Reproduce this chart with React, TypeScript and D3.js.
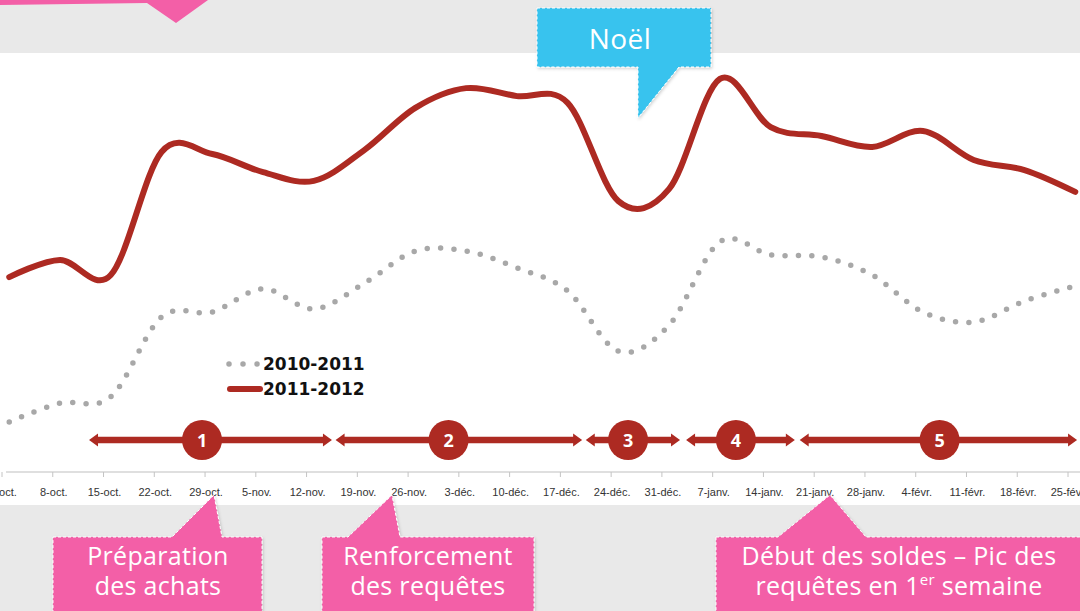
import { useRef, useEffect } from "react";
import * as d3 from "d3";

// weekly points (Sundays)
const weeks = [
  "2011-10-02", "2011-10-09", "2011-10-16", "2011-10-23", "2011-10-30",
  "2011-11-06", "2011-11-13", "2011-11-20", "2011-11-27",
  "2011-12-04", "2011-12-11", "2011-12-18", "2011-12-25",
  "2012-01-01", "2012-01-08", "2012-01-15", "2012-01-22", "2012-01-29",
  "2012-02-05", "2012-02-12", "2012-02-19", "2012-02-26",
];
const season1112 = [
  46.4, 50.5, 46.9, 76.2, 75.7, 71.4, 69.3, 76.7, 86.7, 91.4, 89.5,
  87.9, 64.5, 67.4, 93.6, 82.1, 80.0, 77.4, 81.2, 74.3, 71.9, 66.7,
];
const season1011 = [
  11.9, 16.4, 17.9, 36.9, 38.1, 43.6, 38.8, 45.0, 52.6, 52.6, 48.6,
  43.1, 28.8, 35.0, 54.8, 51.7, 51.2, 46.9, 38.1, 35.7, 40.7, 44.3,
];

const tickDates = [
  "2011-10-01", "2011-10-08", "2011-10-15", "2011-10-22", "2011-10-29",
  "2011-11-05", "2011-11-12", "2011-11-19", "2011-11-26",
  "2011-12-03", "2011-12-10", "2011-12-17", "2011-12-24", "2011-12-31",
  "2012-01-07", "2012-01-14", "2012-01-21", "2012-01-28",
  "2012-02-04", "2012-02-11", "2012-02-18", "2012-02-25",
];
const tickLabels = [
  "1-oct.", "8-oct.", "15-oct.", "22-oct.", "29-oct.", "5-nov.", "12-nov.",
  "19-nov.", "26-nov.", "3-déc.", "10-déc.", "17-déc.", "24-déc.", "31-déc.",
  "7-janv.", "14-janv.", "21-janv.", "28-janv.", "4-févr.", "11-févr.",
  "18-févr.", "25-févr.",
];

// phases 1..5 (double arrows under the curves)
const phaseLabels = ["1", "2", "3", "4", "5"];
const phaseStart = [
  "2011-10-13T00:00:00Z", "2011-11-16T00:00:00Z", "2011-12-20T12:00:00Z",
  "2012-01-03T08:00:00Z", "2012-01-19T00:00:00Z",
];
const phaseEnd = [
  "2011-11-15T12:00:00Z", "2011-12-20T00:00:00Z", "2012-01-02T12:00:00Z",
  "2012-01-18T08:00:00Z", "2012-02-26T06:00:00Z",
];
const phaseMid = [
  "2011-10-28T14:00:00Z", "2011-12-01T14:00:00Z", "2011-12-26T08:00:00Z",
  "2012-01-10T05:00:00Z", "2012-02-07T07:00:00Z",
];

const seriesNames = ["2010-2011", "2011-2012"];

const RED = "#ad2a22";
const GREY = "#a8a8a8";
const PINK = "#f35fa7";
const CYAN = "#37c3ee";
const BG = "#e9e9e9";

const App = () => {
  const svgRef = useRef(null);

  useEffect(() => {
    document.body.style.margin = "0";
    const svg = d3.select(svgRef.current);
    svg.selectAll("*").remove();

    const width = 1080;
    const height = 611;
    svg.attr("width", width).attr("height", height);

    const defs = svg.append("defs");
    const shadow = defs.append("filter").attr("id", "shadow").attr("x", "-10%").attr("y", "-10%").attr("width", "120%").attr("height", "130%");
    shadow.append("feDropShadow").attr("dx", 1).attr("dy", 1.5).attr("stdDeviation", 1.5).attr("flood-color", "#000").attr("flood-opacity", 0.18);

    // backgrounds
    svg.append("rect").attr("width", width).attr("height", height).attr("fill", BG);
    svg.append("rect").attr("x", 0).attr("y", 53).attr("width", width).attr("height", 452).attr("fill", "#fff");

    const x = d3
      .scaleUtc()
      .domain([d3.isoParse("2011-10-01"), d3.isoParse("2012-02-25")])
      .range([2, 1068]);
    const y = d3.scaleLinear().domain([0, 100]).range([472, 52]);

    const axisY = 472;

    // x axis
    svg.append("line").attr("x1", 6).attr("x2", width).attr("y1", axisY).attr("y2", axisY).attr("stroke", "#d4d4d4").attr("stroke-width", 1.3);
    const ticks = svg.append("g");
    tickDates.forEach((d, i) => {
      const tx = x(d3.isoParse(d));
      ticks.append("line").attr("x1", tx).attr("x2", tx).attr("y1", axisY).attr("y2", axisY + 5).attr("stroke", "#c4c4c4").attr("stroke-width", 1);
      ticks
        .append("text")
        .attr("x", tx + 1)
        .attr("y", axisY + 24)
        .attr("text-anchor", "middle")
        .style("font-family", "'Liberation Sans', Arial, sans-serif")
        .style("font-size", "11px")
        .style("fill", "#333")
        .text(tickLabels[i]);
    });

    // series
    const line = d3
      .line()
      .x((d) => x(d3.isoParse(d[0])))
      .y((d) => y(d[1]))
      .curve(d3.curveCardinal.tension(0));

    svg
      .append("path")
      .attr("d", line(weeks.map((w, i) => [w, season1011[i]])))
      .attr("fill", "none")
      .attr("stroke", GREY)
      .attr("stroke-width", 5.5)
      .attr("stroke-linecap", "round")
      .attr("stroke-dasharray", "0 13.4");

    svg
      .append("path")
      .attr("d", line(weeks.map((w, i) => [w, season1112[i]])))
      .attr("fill", "none")
      .attr("stroke", RED)
      .attr("stroke-width", 6)
      .attr("stroke-linecap", "round")
      .attr("stroke-linejoin", "round");

    // legend
    const lg = svg.append("g").attr("transform", "translate(228,364)");
    lg.append("line").attr("x1", 1).attr("x2", 31).attr("y1", 0).attr("y2", 0).attr("stroke", GREY).attr("stroke-width", 5.5).attr("stroke-linecap", "round").attr("stroke-dasharray", "0 14");
    lg.append("line").attr("x1", 2).attr("x2", 32).attr("y1", 25).attr("y2", 25).attr("stroke", RED).attr("stroke-width", 6).attr("stroke-linecap", "round");
    seriesNames.forEach((n, i) => {
      lg.append("text")
        .attr("x", 35)
        .attr("y", i * 25 + 6)
        .style("font-family", "'DejaVu Sans', sans-serif")
        .style("font-weight", "bold")
        .style("font-size", "17px")
        .style("fill", "#111")
        .text(n);
    });

    // phase arrows
    const arrowY = 440;
    const head = 9;
    const half = 6.5;
    const shaft = 3.2;
    const ph = svg.append("g");
    phaseLabels.forEach((lab, i) => {
      const x0 = x(d3.isoParse(phaseStart[i]));
      const x1 = x(d3.isoParse(phaseEnd[i]));
      const cx = x(d3.isoParse(phaseMid[i]));
      const p = d3.path();
      p.moveTo(x0, arrowY);
      p.lineTo(x0 + head, arrowY - half);
      p.lineTo(x0 + head, arrowY - shaft);
      p.lineTo(x1 - head, arrowY - shaft);
      p.lineTo(x1 - head, arrowY - half);
      p.lineTo(x1, arrowY);
      p.lineTo(x1 - head, arrowY + half);
      p.lineTo(x1 - head, arrowY + shaft);
      p.lineTo(x0 + head, arrowY + shaft);
      p.lineTo(x0 + head, arrowY + half);
      p.closePath();
      ph.append("path").attr("d", p.toString()).attr("fill", RED);
      ph.append("circle").attr("cx", cx).attr("cy", arrowY).attr("r", 20).attr("fill", RED);
      ph.append("text")
        .attr("x", cx)
        .attr("y", arrowY + 6.5)
        .attr("text-anchor", "middle")
        .style("font-family", "'Open Sans', sans-serif")
        .style("font-weight", "bold")
        .style("font-size", "18px")
        .style("fill", "#fff")
        .text(lab);
    });

    // callouts
    const font = "'Open Sans', sans-serif";
    const bubble = (pts, fill) => {
      svg
        .append("path")
        .attr("d", d3.line()(pts) + "Z")
        .attr("fill", fill)
        .attr("stroke", "#fff")
        .attr("stroke-width", 1)
        .attr("stroke-dasharray", "3 2")
        .attr("filter", "url(#shadow)");
    };
    const label = (lines, cx, y0, dy) => {
      lines.forEach((t, i) => {
        const txt = svg
          .append("text")
          .attr("x", cx)
          .attr("y", y0 + i * dy)
          .attr("text-anchor", "middle")
          .style("font-family", font)
          .style("font-size", "25px")
          .style("letter-spacing", "0.3px")
          .style("fill", "#fff");
        if (Array.isArray(t)) {
          t.forEach((part) => {
            const ts = txt.append("tspan").text(part.text);
            if (part.sup) ts.attr("baseline-shift", "super").style("font-size", "15px");
          });
        } else {
          txt.text(t);
        }
      });
    };

    // top-left remnant of a pink bubble
    svg.append("path").attr("d", d3.line()([[0, 0], [208, 0], [176, 23], [147, 3], [0, 5]]) + "Z").attr("fill", PINK);

    // Noël
    bubble([[537, 8], [711, 8], [711, 67], [679, 67], [638, 118], [638, 67], [537, 67]], CYAN);
    svg.append("text").attr("x", 620).attr("y", 49).attr("text-anchor", "middle").style("font-family", font).style("font-size", "28px").style("letter-spacing", "0.5px").style("fill", "#fff").text("Noël");

    // bottom bubbles
    bubble([[53, 537], [172, 537], [214, 495], [222, 537], [262, 537], [262, 620], [53, 620]], PINK);
    label(["Préparation", "des achats"], 158, 565, 30);

    bubble([[322, 537], [348, 537], [392, 495], [400, 537], [534, 537], [534, 620], [322, 620]], PINK);
    label(["Renforcement", "des requêtes"], 428, 565, 30);

    bubble([[716, 537], [778, 537], [830, 495], [866, 537], [1090, 537], [1090, 620], [716, 620]], PINK);
    label(
      [
        "Début des soldes – Pic des",
        [{ text: "requêtes en 1" }, { text: "er", sup: true }, { text: " semaine" }],
      ],
      899,
      565,
      30
    );
  }, []);

  return <svg ref={svgRef} style={{ display: "block", position: "absolute", left: 0, top: 0 }}></svg>;
};

export default App;
